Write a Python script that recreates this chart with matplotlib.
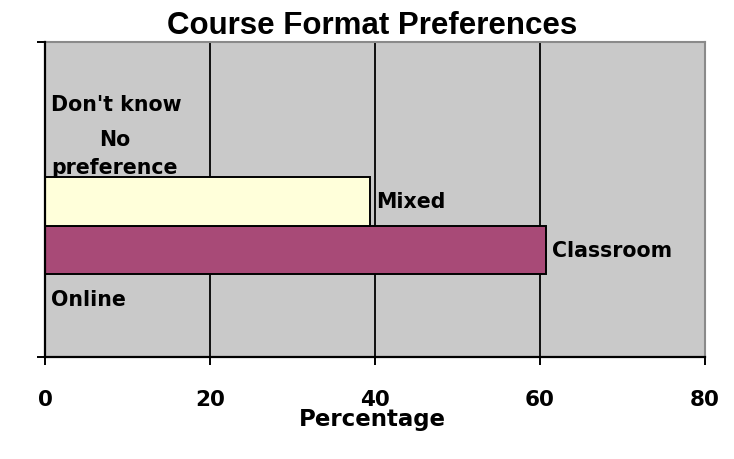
import matplotlib
matplotlib.use("Agg")
import matplotlib.pyplot as plt

# Data
series = ["Online", "Classroom", "Mixed", "No\npreference", "Don't know"]
values = [0.0, 60.7, 39.4, 0.0, 0.0]
colors = ["#9999FF", "#A84A77", "#FFFFDA", "#CCFFFF", "#660066"]
xticks = [0, 20, 40, 60, 80]

W, H = 734, 460
fig = plt.figure(figsize=(W / 100, H / 100), dpi=100)
fig.patch.set_facecolor("white")
ax = fig.add_axes([45 / W, (H - 358) / H, (705 - 45) / W, (358 - 43) / H])
ax.set_facecolor("#C9C9C9")

ypos = list(range(len(series)))
ax.barh(ypos, values, height=1.0, color=colors, edgecolor="black",
        linewidth=1.4, zorder=3)

lab_font = dict(family="DejaVu Sans", weight="bold", size=14.8)
for y, v, s in zip(ypos, values, series):
    ax.annotate(s, xy=(v, y), xytext=(4.5, 0), textcoords="offset points",
                ha="left", va="center", multialignment="center",
                linespacing=1.5, zorder=4, **lab_font)

ylo, yhi = -0.5 - 0.70, len(series) - 0.5 + 0.78
ax.set_ylim(ylo, yhi)
ax.set_xlim(0, 80)

ax.set_xticks(xticks)
ax.set_xticklabels([str(t) for t in xticks], fontfamily="DejaVu Sans",
                   fontweight="bold", fontsize=15.5)
ax.set_yticks([ylo, yhi])
ax.set_yticklabels(["", ""])
ax.tick_params(axis="x", direction="out", length=5.8, width=1.4, pad=17,
               color="black")
ax.tick_params(axis="y", direction="out", length=5.8, width=1.4,
               color="black")

ax.grid(axis="x", color="black", linewidth=1.3, zorder=1)
ax.grid(axis="y", visible=False)
ax.set_axisbelow(True)

for side in ["left", "bottom"]:
    ax.spines[side].set_color("black")
    ax.spines[side].set_linewidth(1.6)
    ax.spines[side].set_zorder(5)
for side in ["top", "right"]:
    ax.spines[side].set_color("#8A8A8A")
    ax.spines[side].set_linewidth(1.5)

fig.text(372.5 / W, (H - 34) / H, "Course Format Preferences",
         ha="center", va="baseline", family="Liberation Sans",
         weight="bold", size=22.5)
fig.text(372 / W, (H - 426) / H, "Percentage", ha="center", va="baseline",
         family="DejaVu Sans", weight="bold", size=16.5)

fig.savefig("out.png", dpi=100, facecolor="white")
